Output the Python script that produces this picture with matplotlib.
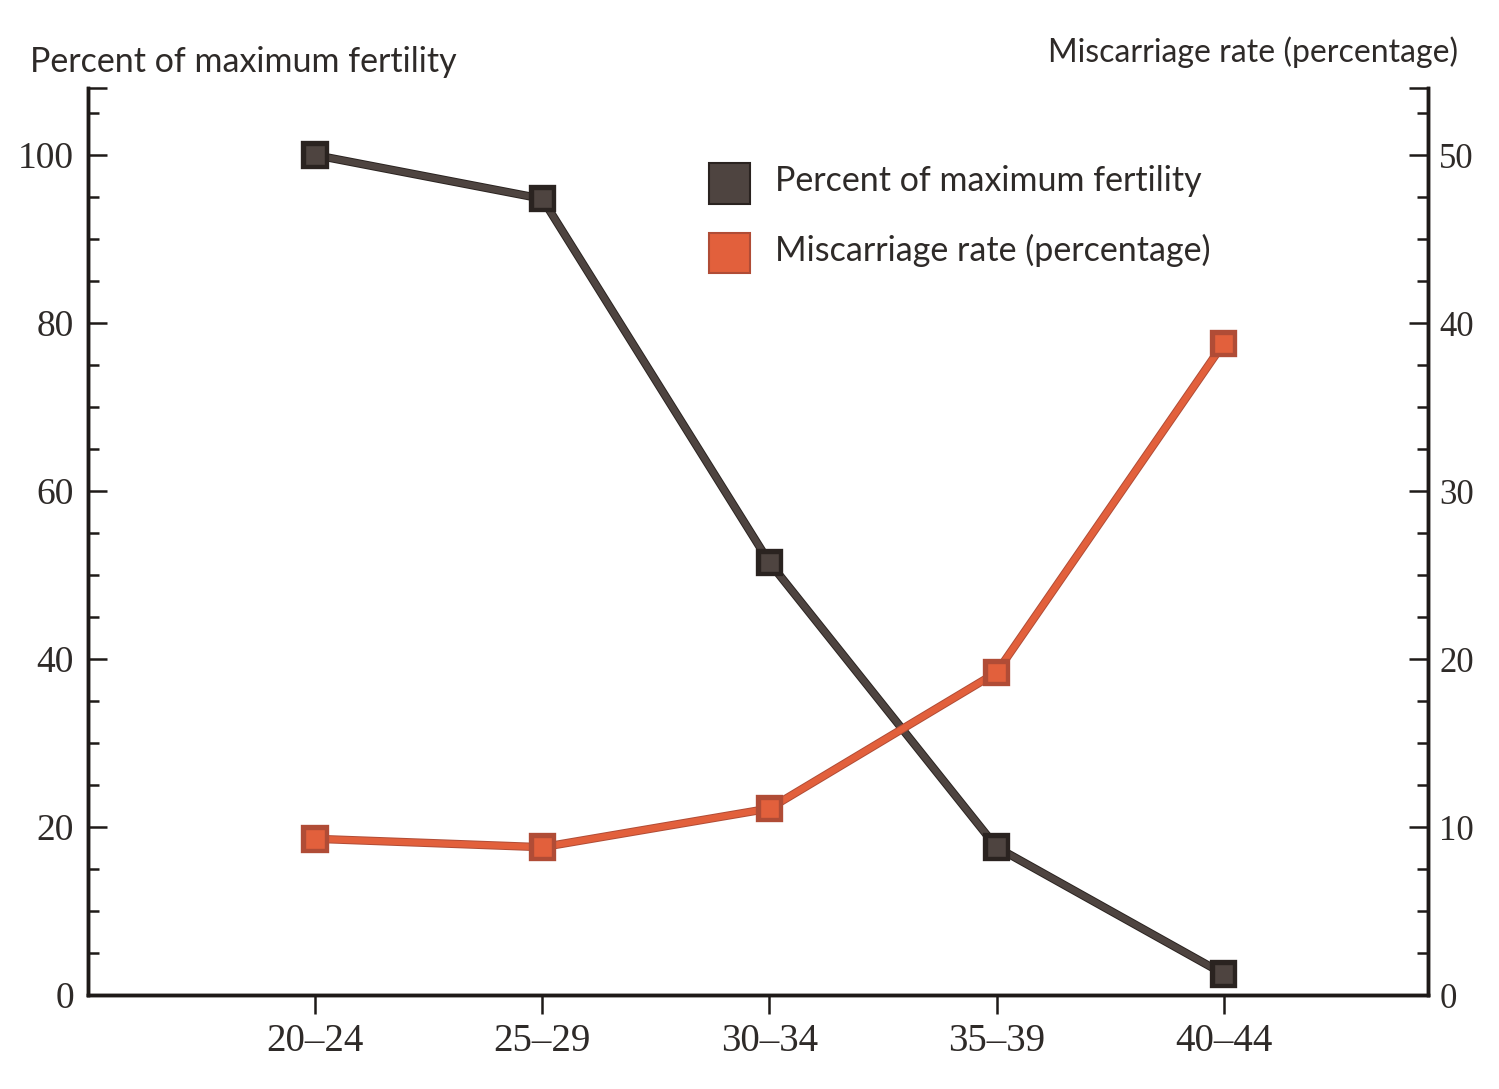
import matplotlib
matplotlib.use("Agg")
import matplotlib.pyplot as plt
import matplotlib.patheffects as pe
from matplotlib.patches import Rectangle
from matplotlib.ticker import MultipleLocator, FixedLocator

# data
age_groups = ["20–24", "25–29", "30–34", "35–39", "40–44"]
fertility = [100, 94.8, 51.5, 17.6, 2.5]
miscarriage = [9.3, 8.8, 11.1, 19.2, 38.8]

dark = "#4e4440"
dark_edge = "#2a2320"
orange = "#e2603c"
orange_edge = "#b04c36"
text_col = "#2e2a28"

plt.rcParams['font.family'] = ['Lato', 'DejaVu Sans']

fig = plt.figure(figsize=(14.99, 10.89), dpi=100)
ax = fig.add_axes([0.0587, 0.0863, 0.894, 0.833])
ax2 = ax.twinx()

x = list(range(len(age_groups)))

ax.plot(x, fertility, color=dark, lw=4.6, marker="s", markersize=14,
        markerfacecolor=dark, markeredgecolor=dark_edge, markeredgewidth=1.0,
        path_effects=[pe.Stroke(linewidth=6.0, foreground=dark_edge), pe.Normal()],
        zorder=3)
ax2.plot(x, miscarriage, color=orange, lw=4.6, marker="s", markersize=14,
         markerfacecolor=orange, markeredgecolor=orange_edge, markeredgewidth=1.0,
         path_effects=[pe.Stroke(linewidth=6.0, foreground=orange_edge), pe.Normal()],
         zorder=3)

ax.set_xlim(-1.0, 4.9)
ax.set_ylim(0, 108)
ax2.set_ylim(0, 54)

ax.set_xticks(x)
ax.set_xticklabels(age_groups)
ax.yaxis.set_major_locator(FixedLocator([0, 20, 40, 60, 80, 100, 108]))
ax.set_yticklabels(["0", "20", "40", "60", "80", "100", ""])
ax.yaxis.set_minor_locator(MultipleLocator(5))
ax2.yaxis.set_major_locator(FixedLocator([0, 10, 20, 30, 40, 50, 54]))
ax2.set_yticklabels(["0", "10", "20", "30", "40", "50", ""])
ax2.yaxis.set_minor_locator(MultipleLocator(2.5))

for a in (ax, ax2):
    a.spines["top"].set_visible(False)
    for s in ("left", "right", "bottom"):
        a.spines[s].set_linewidth(2.5)
        a.spines[s].set_color("#1e1a18")

ax.tick_params(axis="y", which="major", direction="in", length=14, width=1.8,
               labelsize=27, pad=10, colors="#1e1a18", labelcolor=text_col)
ax.tick_params(axis="y", which="minor", direction="in", length=8, width=1.8,
               colors="#1e1a18")
ax2.tick_params(axis="y", which="major", direction="in", length=14, width=1.8,
                labelsize=25, pad=8, colors="#1e1a18", labelcolor=text_col)
ax2.tick_params(axis="y", which="minor", direction="in", length=8, width=1.8,
                colors="#1e1a18")
ax.tick_params(axis="x", direction="out", length=14, width=1.8, labelsize=28,
               pad=6, colors="#1e1a18", labelcolor=text_col)

for lab in ax.get_yticklabels() + ax2.get_yticklabels() + ax.get_xticklabels():
    lab.set_family(['Liberation Serif', 'DejaVu Serif'])

fig.text(0.020, 0.943, "Percent of maximum fertility", fontsize=24.5,
         color=text_col, ha="left", va="center")
fig.text(0.973, 0.952, "Miscarriage rate (percentage)", fontsize=23,
         color=text_col, ha="right", va="center")

# legend
legend_items = [("Percent of maximum fertility", dark, dark_edge),
                ("Miscarriage rate (percentage)", orange, orange_edge)]
for i, (label, fc, ec) in enumerate(legend_items):
    y0 = 0.813 - i * 0.064
    fig.patches.append(Rectangle((0.473, y0), 0.027, 0.037, transform=fig.transFigure,
                                 facecolor=fc, edgecolor=ec, lw=1.5))
    fig.text(0.517, y0 + 0.021, label, fontsize=24.5, color=text_col,
             ha="left", va="center")

fig.savefig("out.png", dpi=100, facecolor="white")
